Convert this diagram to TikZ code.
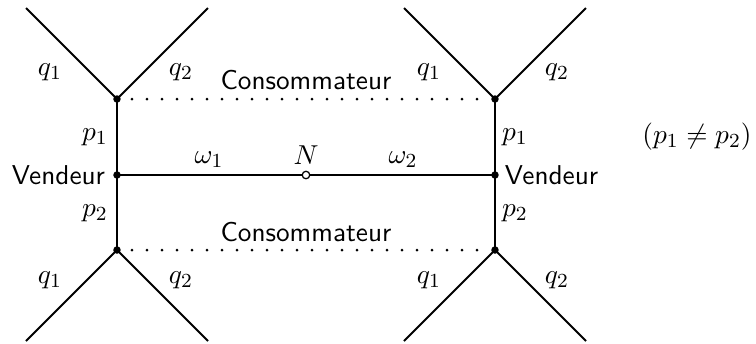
\documentclass[tikz,border=0pt]{standalone}
\usetikzlibrary{calc}
\begin{document}
\begin{tikzpicture}[x=0.4pt,y=-0.4pt,
  every node/.style={font=\fontsize{10.9}{13}\selectfont},
  edge/.style={line width=0.8pt},
  dotline/.style={line width=1.2pt,line cap=round,dash pattern=on 0pt off 6pt},
  lbl/.style={inner sep=1pt},
  word/.style={font=\fontsize{10.9}{13}\selectfont\sffamily,inner sep=1pt}]
\useasboundingbox (0,0) rectangle (756,343);
% vertices
\coordinate (LT) at (117,99);
\coordinate (LM) at (117,175);
\coordinate (LB) at (117,250);
\coordinate (RT) at (495,99);
\coordinate (RM) at (495,175);
\coordinate (RB) at (495,250);
\coordinate (N) at (306,175);
% free ends
\coordinate (LTa) at (26,8);
\coordinate (LTb) at (208,8);
\coordinate (LBa) at (26,341);
\coordinate (LBb) at (208,341);
\coordinate (RTa) at (404,8);
\coordinate (RTb) at (586,8);
\coordinate (RBa) at (404,341);
\coordinate (RBb) at (586,341);
% lines
\draw[edge] (LTa) -- (LT) -- (LTb);
\draw[edge] (LBa) -- (LB) -- (LBb);
\draw[edge] (RTa) -- (RT) -- (RTb);
\draw[edge] (RBa) -- (RB) -- (RBb);
\draw[edge] (LT) -- (LB);
\draw[edge] (RT) -- (RB);
\draw[edge] (LM) -- (RM);
\draw[dotline] ($(LT)+(15,0)$) -- ($(RT)-(10,0)$);
\draw[dotline] ($(LB)+(15,0)$) -- ($(RB)-(10,0)$);
% vertex marks
\foreach \p in {LT,LM,LB,RT,RM,RB} \fill (\p) circle (1.5pt);
\draw[line width=0.5pt,fill=white] (N) circle (1.5pt);
% labels
\node[lbl] (q1a) at (50,72) {$q_1$};
\node[lbl] (q2a) at (181,72) {$q_2$};
\node[lbl] (q1b) at (50,280) {$q_1$};
\node[lbl] (q2b) at (181,280) {$q_2$};
\node[lbl] (q1c) at (429,72) {$q_1$};
\node[lbl] (q2c) at (557,72) {$q_2$};
\node[lbl] (q1d) at (429,280) {$q_1$};
\node[lbl] (q2d) at (557,280) {$q_2$};
\node[lbl] (p1a) at (95,137) {$p_1$};
\node[lbl] (p2a) at (95,213) {$p_2$};
\node[lbl] (p1b) at (515,137) {$p_1$};
\node[lbl] (p2b) at (515,213) {$p_2$};
\node[lbl] (w1) at (209,160) {$\omega_1$};
\node[lbl] (w2) at (403,160) {$\omega_2$};
\node[lbl] (Nl) at (306,155) {$N$};
\node[lbl] (neq) at (697,137) {$(p_1\neq p_2)$};
\node[word,anchor=east] (VL) at (108,175) {Vendeur};
\node[word,anchor=west] (VR) at (502,175) {Vendeur};
\node[word] (CT) at (306,80) {Consommateur};
\node[word] (CB) at (306,232) {Consommateur};
\end{tikzpicture}
\end{document}
